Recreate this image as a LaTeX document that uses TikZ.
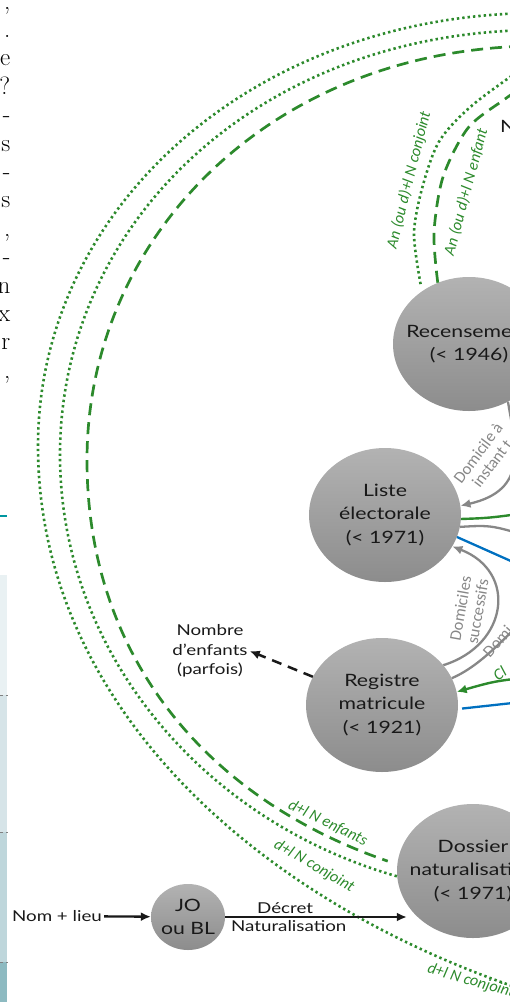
\documentclass[tikz,border=0pt]{standalone}
\usepackage{fontspec}
\newfontfamily\nodefont[FakeStretch=1.25]{Lato}
\newfontfamily\lblfont{Carlito}
\usetikzlibrary{shapes.geometric,arrows.meta}
\definecolor{vert}{RGB}{44,138,44}
\definecolor{bleu}{RGB}{0,112,192}
\definecolor{gris}{RGB}{135,135,135}
\definecolor{noir}{RGB}{25,25,25}
\definecolor{sarcelle}{RGB}{0,150,160}
\definecolor{bandeA}{RGB}{233,241,243}
\definecolor{bandeB}{RGB}{214,228,232}
\definecolor{bandeC}{RGB}{190,214,219}
\definecolor{bandeD}{RGB}{141,186,193}
\tikzset{
  archive/.style={ellipse, minimum width=152pt, minimum height=134pt,
    inner xsep=-20pt, inner ysep=0pt, top color=gray!60, bottom color=gray!90,
    align=center, text=noir, font=\nodefont\fontsize{17}{23.5}\selectfont},
  etiquette/.style={align=center, text=noir, inner sep=2pt,
    font=\nodefont\fontsize{15}{19.5}\selectfont},
  legende/.style={text=vert, inner sep=1pt,
    font=\lblfont\itshape\fontsize{16}{18}\selectfont},
  lgris/.style={text=gris, align=center, inner sep=1pt,
    font=\lblfont\fontsize{16.5}{17.5}\selectfont},
  pointille/.style={vert, line width=2.6pt, dash pattern=on 2.4pt off 3pt},
  tirets/.style={vert, line width=2.7pt, dash pattern=on 12pt off 7pt},
  trait/.style={line width=2.3pt}
}
\begin{document}
\begin{tikzpicture}[x=1pt,y=-1pt,>={Latex[length=10pt,width=9pt]}]
\useasboundingbox (0,0) rectangle (510,1002);
\clip (0,0) rectangle (510,1002);
\foreach \ch [count=\k from 0] in {{,},{.},e,?,-,s,-,s,{,},-,n,x,r,{,}}
  \node[anchor=base east, inner sep=0pt, font=\fontsize{25}{29}\selectfont] (bord\k) at (10.5,{9+28.4*\k}) {\ch};
\draw[sarcelle, line width=1.5pt] (0,516) -- (7,516);
\fill[bandeA] (0,575) rectangle (7,695);
\fill[bandeB] (0,695) rectangle (7,832);
\fill[bandeC] (0,832) rectangle (7,962);
\fill[bandeD] (0,962) rectangle (7,1002);
\foreach \y in {695,832,962}
  \draw[gray, dashed, line width=.6pt] (0,\y) -- (8,\y);

\coordinate (hautA) at (540,13);
\coordinate (basA) at (530,992);
\coordinate (hautB) at (540,30);
\coordinate (hautC) at (540,46);
\coordinate (hautD) at (540,56);
\coordinate (hautE) at (540,75);
\coordinate (sortieV) at (540,511);
\coordinate (sortieG) at (540,540);
\coordinate (sortieB) at (540,574);
\coordinate (sortieD) at (540,602);
\coordinate (entreeCl) at (540,676);
\coordinate (sortieR) at (540,700);

\node[archive] (rec) at (469,344) {Recensement\\(< 1946)};
\node[archive] (lst) at (385,515) {Liste\\électorale\\(< 1971)};
\node[archive] (reg) at (382,705) {Registre\\matricule\\(< 1921)};
\node[archive] (dos) at (473,871) {Dossier\\naturalisation\\(< 1971)};
\node[archive, minimum width=74pt, minimum height=66pt] (jo) at (188,917) {JO\\ou BL};
\node[etiquette] (nom) at (57,916) {Nom + lieu};
\node[etiquette] (nmb) at (210,651) {Nombre\\d’enfants\\(parfois)};
\node[anchor=base west, inner sep=0pt, text=noir, font=\nodefont\fontsize{17}{20}\selectfont] (nfrag) at (500,132) {N};

\draw[pointille] (hautA) .. controls (255,13) and (38,207) .. (38,446) .. controls (38,700) and (250,900) .. (basA);
\draw[pointille] (hautB) .. controls (262,30) and (60,220) .. (60,455) .. controls (60,650) and (200,820) .. (dos.184);
\draw[tirets, shorten >=10pt] (hautC) .. controls (276,46) and (87,233) .. (87,460) .. controls (87,660) and (210,800) .. (dos.175);
\draw[pointille] plot[smooth] coordinates {([yshift=8pt]rec.133) (414,233) (423,185) (440,140) (475,103) (hautD)};
\draw[tirets] plot[smooth] coordinates {(rec.117) (434,233) (443,177) (468,128) (505,99) (hautE)};

\node[legende, rotate=76] (lanc) at (409,180) {An (ou d)+l N conjoint};
\node[legende, rotate=75] (lane) at (466,192) {An (ou d)+l N enfant};
\node[legende, rotate=-26] (lenf) at (328,823) {d+l N enfants};
\node[legende, rotate=-30] (lcon) at (314,866) {d+l N conjoint};
\node[legende, rotate=-16] (lcob) at (471,981) {d+l N conjoint};

\draw[gris, trait, ->] (rec.-56) .. controls (515,445) and (530,490) .. (lst.7);
\draw[gris, trait, ->] (reg.33) .. controls (508,645) and (518,572) .. (lst.-25);
\draw[gris, trait] (reg.21) .. controls (475,668) and (495,650) .. (sortieD);
\node[lgris, rotate=53] (ldom) at (485,458) {Domicile à\\instant t};
\node[lgris, rotate=80] (lsuc) at (469,610) {Domiciles\\successifs};
\node[lgris, rotate=48, anchor=base west] (ldomi) at (489,659) {Domi};

\draw[vert, line width=2.4pt] (lst.-3) .. controls (490,518) .. (sortieV);
\draw[gris, trait] (lst.-9) .. controls (492,525) .. (sortieG);
\draw[bleu, trait] (lst.-17) -- (sortieB);
\draw[vert, line width=2.4pt, ->] (entreeCl) .. controls (495,681) .. (reg.10);
\node[legende, rotate=35, anchor=base west] (lcl) at (497,682) {Cl};
\draw[bleu, trait, shorten <=4pt] (reg.-3) -- (sortieR);

\draw[noir, line width=2.5pt, dash pattern=on 10pt off 7pt, ->] (reg) -- (nmb.east);
\draw[noir, trait, ->] (nom) -- (jo);
\path (dos.west |- jo) ++(10,0) coordinate (pointeD);
\draw[noir, trait, ->] (jo) -- node[etiquette, pos=0.33, above] (ldec) {Décret} node[etiquette, pos=0.35, below] (lnat) {Naturalisation} (pointeD);
\end{tikzpicture}
\end{document}
